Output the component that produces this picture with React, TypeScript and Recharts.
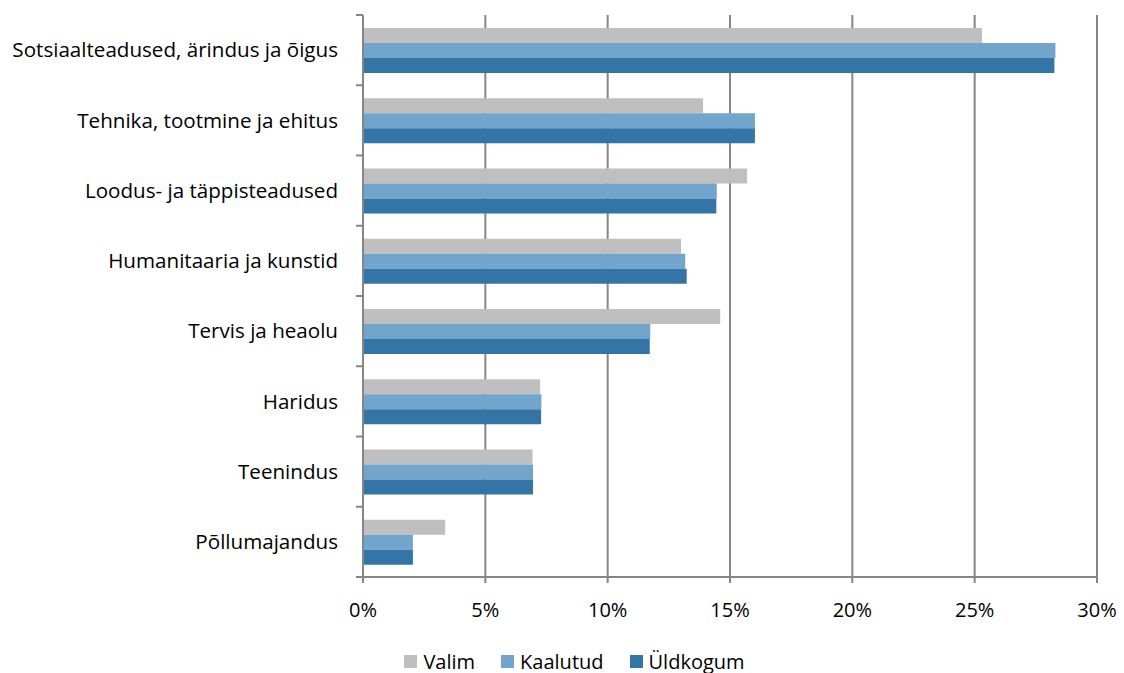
import React from 'react';
import { BarChart, Bar, XAxis, YAxis, CartesianGrid } from 'recharts';

const categories = [
  'Sotsiaalteadused, ärindus ja õigus',
  'Tehnika, tootmine ja ehitus',
  'Loodus- ja täppisteadused',
  'Humanitaaria ja kunstid',
  'Tervis ja heaolu',
  'Haridus',
  'Teenindus',
  'Põllumajandus',
];

const valim = [0.253, 0.139, 0.157, 0.130, 0.146, 0.0724, 0.0693, 0.0336];
const kaalutud = [0.283, 0.1602, 0.1446, 0.1317, 0.1174, 0.0729, 0.0695, 0.0204];
const yldkogum = [0.2826, 0.1602, 0.1444, 0.1323, 0.1172, 0.0728, 0.0695, 0.0204];

const xTicks = [0, 0.05, 0.1, 0.15, 0.2, 0.25, 0.3];

const seriesNames = ['Valim', 'Kaalutud', 'Üldkogum'];
const seriesColors = ['#BFBFBF', '#71A5CB', '#3375A6'];

const data = categories.map((name, i) => ({
  name,
  Valim: valim[i],
  Kaalutud: kaalutud[i],
  Üldkogum: yldkogum[i],
}));

const W = 1124;
const H = 673;
const M = { top: 15, right: 27, left: 0, bottom: 56 };
const X_HEIGHT = 40;
const Y_WIDTH = 363;
const TICK_SIZE = 7;
const TICK_MARGIN = 18;
const AXIS = '#868686';
const FONT = '"Open Sans", Lato, sans-serif';

const plotH = H - M.top - M.bottom - X_HEIGHT;
const band = plotH / categories.length;

const CategoryTick = (props: any) => {
  const { x, y, payload, index } = props;
  const axisX = x + TICK_MARGIN + TICK_SIZE;
  return (
    <g>
      <line x1={axisX - TICK_SIZE} x2={axisX} y1={y - band / 2} y2={y - band / 2} stroke={AXIS} strokeWidth={2} />
      {index === categories.length - 1 && (
        <line x1={axisX - TICK_SIZE} x2={axisX} y1={y + band / 2} y2={y + band / 2} stroke={AXIS} strokeWidth={2} />
      )}
      <text x={x} y={y} dy="0.35em" textAnchor="end" fill="#000" fontSize={20.6} fontFamily={FONT}>
        {payload.value}
      </text>
    </g>
  );
};

const ChartLegend = () => (
  <div
    style={{
      position: 'absolute',
      top: 649,
      left: 0,
      width: W,
      height: 24,
      display: 'flex',
      justifyContent: 'center',
      alignItems: 'center',
      paddingLeft: 25,
      boxSizing: 'border-box',
      fontFamily: FONT,
      fontSize: 20,
      color: '#000',
    }}
  >
    {seriesNames.map((n, i) => (
      <div key={n} style={{ display: 'flex', alignItems: 'center', marginRight: i < 2 ? 26 : 0 }}>
        <span style={{ width: 13, height: 13, background: seriesColors[i], display: 'inline-block', marginRight: 6 }} />
        <span>{n}</span>
      </div>
    ))}
  </div>
);

export default function App() {
  return (
    <div style={{ position: 'absolute', left: 0, top: 0, width: W, height: H, background: '#fff' }}>
      <BarChart width={W} height={H} data={data} layout="vertical" margin={M} barGap={0} barSize={15}>
        <CartesianGrid horizontal={false} vertical stroke={AXIS} strokeWidth={2} />
        <XAxis
          type="number"
          domain={[0, 0.3]}
          ticks={xTicks}
          tickFormatter={(v: number) => `${Math.round(v * 100)}%`}
          axisLine={{ stroke: AXIS, strokeWidth: 2 }}
          tickLine={{ stroke: AXIS, strokeWidth: 2 }}
          tickSize={6}
          tickMargin={20}
          tick={{ fill: '#000', fontSize: 20, fontFamily: FONT }}
          height={X_HEIGHT}
          interval={0}
        />
        <YAxis
          type="category"
          dataKey="name"
          width={Y_WIDTH}
          axisLine={{ stroke: AXIS, strokeWidth: 2 }}
          tickLine={false}
          tickSize={TICK_SIZE}
          tickMargin={TICK_MARGIN}
          tick={<CategoryTick />}
          interval={0}
        />
        {seriesNames.map((n, i) => (
          <Bar key={n} dataKey={n} fill={seriesColors[i]} isAnimationActive={false} />
        ))}
      </BarChart>
      <ChartLegend />
    </div>
  );
}
